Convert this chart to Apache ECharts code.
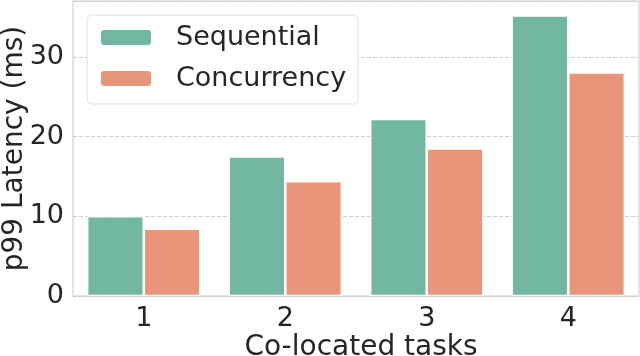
<!DOCTYPE html>
<html><head><meta charset="utf-8">
<script src="https://cdn.jsdelivr.net/npm/echarts@6/dist/echarts.min.js"></script>
<style>html,body{margin:0;padding:0;background:#fff}#c{width:640px;height:356px}</style>
</head><body><div id="c"></div>
<script>
const categories = ['1', '2', '3', '4'];
const sequential = [10.0, 17.5, 22.2, 35.2];
const concurrency = [8.45, 14.4, 18.5, 28.05];
const yTicks = [0, 10, 20, 30];
const seriesNames = ['Sequential', 'Concurrency'];
const xTitle = 'Co-located tasks';
const yTitle = 'p99 Latency (ms)';

const FONT = 'DejaVu Sans';
const TXT = '#262626';
const FS = 27;
const FT = 28;
const chart = echarts.init(document.getElementById('c'), null, {renderer: 'canvas'});
chart.setOption({
  animation: false,
  textStyle: {fontFamily: FONT, color: TXT},
  grid: {left: 73, right: 1, top: 1, bottom: 60, show: true, borderColor: '#dcdcdc', borderWidth: 1.5,
         containLabel: false, outerBoundsMode: 'none'},
  legend: {
    left: 87, top: 15, orient: 'vertical',
    padding: [9, 12, 12, 12],
    itemWidth: 52, itemHeight: 17, itemGap: 14,
    backgroundColor: '#fff', borderColor: '#dedede', borderWidth: 1, borderRadius: 5,
    textStyle: {fontFamily: FONT, fontSize: FS, lineHeight: 26, color: TXT, padding: [0, 0, 0, 19]},
    data: seriesNames
  },
  xAxis: {
    type: 'category', data: categories,
    axisLine: {show: false}, axisTick: {show: false},
    axisLabel: {fontFamily: FONT, fontSize: FS, color: TXT, margin: 9},
    name: xTitle, nameLocation: 'middle', nameGap: 38, nameMoveOverlap: false,
    nameTextStyle: {fontFamily: FONT, fontSize: FT, color: TXT, padding: [0, 0, 0, 10]}
  },
  yAxis: {
    type: 'value', min: 0, max: 37, interval: 10,
    axisLine: {show: false}, axisTick: {show: false},
    axisLabel: {fontFamily: FONT, fontSize: FS, color: TXT, margin: 9,
      formatter: v => yTicks.includes(v) ? String(v) : ''},
    splitLine: {show: true, lineStyle: {color: '#cfcfcf', type: [4, 2], width: 1}},
    name: yTitle, nameLocation: 'middle', nameGap: 44, nameMoveOverlap: false,
    nameTextStyle: {fontFamily: FONT, fontSize: FT, color: TXT}
  },
  series: [
    {name: seriesNames[0], type: 'bar', data: sequential, barGap: '0%', barCategoryGap: '20%',
     itemStyle: {color: '#72b7a1', borderColor: '#fff', borderWidth: 1.3}},
    {name: seriesNames[1], type: 'bar', data: concurrency,
     itemStyle: {color: '#e9957a', borderColor: '#fff', borderWidth: 1.3}}
  ]
});
</script></body></html>
